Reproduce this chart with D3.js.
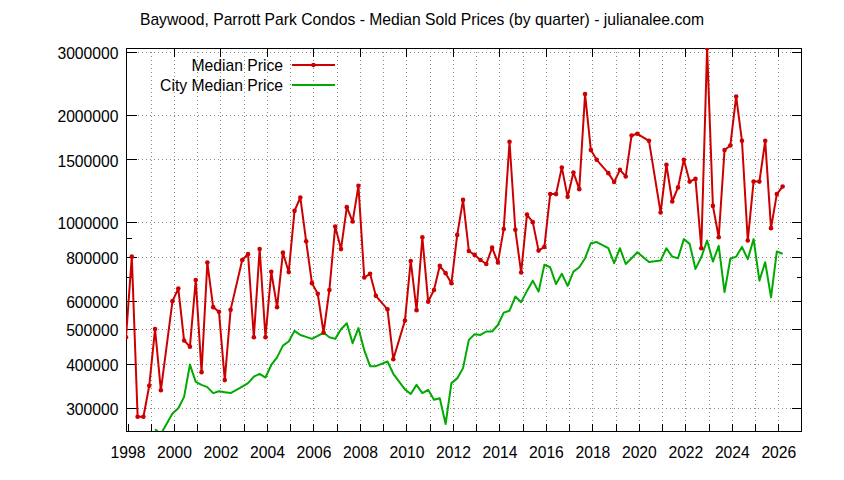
<!DOCTYPE html>
<html>
<head>
<meta charset="utf-8">
<script src="https://cdn.jsdelivr.net/npm/d3@7/dist/d3.min.js"></script>
<style>
  body { margin: 0; background: #fff; }
  text { font-family: "Liberation Sans", Arial, sans-serif; }
</style>
</head>
<body>
<svg id="chart" width="844" height="480"></svg>
<script>
// ---------- data ----------
const chartTitle = "Baywood, Parrott Park Condos - Median Sold Prices (by quarter) - julianalee.com";
const seriesNames = ["Median Price", "City Median Price"];
const firstYear = 1998;          // first quarter of the series: 1998 Q1
const xDomain = [1997.935, 2026.975];
const yDomain = [259000, 3085000];
const yTickValues = [300000, 400000, 500000, 600000, 800000, 1000000, 1500000, 2000000, 3000000];
const yMinorTicks = [700000, 900000];
const xYears = d3.range(1998, 2027);

// quarterly values, null = quarter with no sales
const medianPrice = [
  475000, 800000, 284000, 284000, 347000, 501000, 337000, null,
  600000, 651000, 465000, 447000, 688000, 379000, 770000, 577000,
  560000, 360000, 567000, null, 783000, 814000, 475000, 841000,
  475000, 725000, 577000, 821000, 724000, 1076000, 1173000, 884000,
  674000, 629000, 489000, 645000, 972000, 840000, 1102000, 1004000,
  1265000, 699000, 716000, 621000, null, 569000, 412000, null,
  529000, 778000, 566000, 907000, 598000, 645000, 754000, 719000,
  674000, 921000, 1155000, 830000, 809000, 783000, 763000, 848000,
  770000, 956000, 1682000, 952000, 722000, 1050000, 1000000, 832000,
  852000, 1199000, 1199000, 1424000, 1178000, 1379000, 1238000, 2290000,
  1594000, 1497000, null, 1373000, 1296000, 1403000, 1344000, 1752000,
  1771000, null, 1692000, null, 1064000, 1449000, 1143000, 1252000,
  1497000, 1300000, 1323000, 845000, 3080000, 1111000, 907000, 1594000,
  1642000, 2255000, 1692000, 888000, 1300000, 1300000, 1692000, 962000,
  1199000, 1259000
];
const cityMedianPrice = [
  null, null, null, null, null, 262000, 254000, null,
  290000, 300000, 323000, 398000, 356000, 349000, 344000, 331000,
  335000, 333000, 331000, null, 345000, 353000, 368000, 375000,
  366000, 397000, 417000, 450000, 462000, 495000, 482000, 476000,
  470000, 479000, 489000, 475000, 470000, 500000, 520000, 457000,
  504000, 437000, 394000, 394000, null, 406000, 375000, null,
  339000, 329000, 349000, 331000, 338000, 317000, 320000, 271000,
  353000, 364000, 389000, 467000, 484000, 482000, 493000, 493000,
  514000, 557000, 564000, 618000, 596000, 641000, 685000, 638000,
  759000, 747000, 670000, 716000, 662000, 726000, 747000, 792000,
  873000, 879000, null, 845000, 767000, 845000, 763000, 792000,
  823000, null, 773000, null, 780000, 845000, 800000, 792000,
  896000, 869000, 739000, 797000, 888000, 775000, 858000, 636000,
  789000, 800000, 852000, 787000, 896000, 685000, 772000, 615000,
  827000, 815000
];

// ---------- layout ----------
const W = 844, H = 480;
const plot = { left: 126, right: 801, top: 48, bottom: 431 };
const fontSize = 15.7;
const redColor = "#cc0000", greenColor = "#00aa00";

const svg = d3.select("#chart");
const x = d3.scaleLinear().domain(xDomain).range([plot.left, plot.right]);
const y = d3.scaleLog().domain(yDomain).range([plot.bottom, plot.top]);
const pw = plot.right - plot.left, ph = plot.bottom - plot.top;

function toPoints(values) {
  return values.map((v, i) => ({ t: firstYear + i / 4 + (xDomain[0] - firstYear), v }))
               .filter(d => d.v != null);
}
const redPts = toPoints(medianPrice);
const greenPts = toPoints(cityMedianPrice);

// grid
const grid = svg.append("g").attr("stroke", "#8c8c8c").attr("stroke-width", 1)
  .attr("stroke-dasharray", "1,3");
grid.selectAll("line.gx").data(xYears.filter(yr => x(yr) > plot.left + 2)).join("line")
  .attr("x1", d => Math.round(x(d)) + 0.5).attr("x2", d => Math.round(x(d)) + 0.5)
  .attr("y1", plot.top).attr("y2", plot.bottom);
grid.selectAll("line.gy").data(yTickValues).join("line")
  .attr("y1", d => Math.round(y(d)) + 0.5).attr("y2", d => Math.round(y(d)) + 0.5)
  .attr("x1", plot.left).attr("x2", plot.right);

// axes (ticks inward, mirrored)
const fmt = d3.format("d");
const leftAxis = svg.append("g").attr("transform", `translate(${plot.left + 0.5},0)`)
  .call(d3.axisLeft(y).tickValues(yTickValues).tickFormat(fmt).tickSizeInner(-10).tickSizeOuter(0).tickPadding(8));
const leftMinor = svg.append("g").attr("transform", `translate(${plot.left + 0.5},0)`)
  .call(d3.axisLeft(y).tickValues(yMinorTicks).tickFormat("").tickSizeInner(-5).tickSizeOuter(0));
const rightAxis = svg.append("g").attr("transform", `translate(${plot.right + 0.5},0)`)
  .call(d3.axisRight(y).tickValues(yTickValues).tickFormat("").tickSizeInner(-10).tickSizeOuter(0));
const rightMinor = svg.append("g").attr("transform", `translate(${plot.right + 0.5},0)`)
  .call(d3.axisRight(y).tickValues(yMinorTicks).tickFormat("").tickSizeInner(-5).tickSizeOuter(0));
const bottomAxis = svg.append("g").attr("transform", `translate(0,${plot.bottom + 0.5})`)
  .call(d3.axisBottom(x).tickValues(xYears).tickFormat(d => d % 2 === 0 ? fmt(d) : "")
        .tickSizeInner(-8).tickSizeOuter(0).tickPadding(15));
const topAxis = svg.append("g").attr("transform", `translate(0,${plot.top + 0.5})`)
  .call(d3.axisTop(x).tickValues(xYears.filter(d => d % 2 === 0 && x(d) > plot.left + 2)).tickFormat("")
        .tickSizeInner(-8).tickSizeOuter(0));

[leftAxis, leftMinor, rightAxis, rightMinor, bottomAxis, topAxis].forEach(g => {
  g.select(".domain").remove();
  g.selectAll(".tick line").attr("stroke", "#000").attr("shape-rendering", "crispEdges");
  g.selectAll("text").attr("font-size", fontSize).attr("fill", "#000")
    .attr("font-family", '"Liberation Sans", Arial, sans-serif');
});
leftAxis.selectAll("text").attr("dy", "0.42em");

// border
svg.append("rect").attr("x", plot.left + 0.5).attr("y", plot.top + 0.5)
  .attr("width", pw).attr("height", ph).attr("fill", "none").attr("stroke", "#000")
  .attr("stroke-width", 1).attr("shape-rendering", "crispEdges");

// clip
svg.append("clipPath").attr("id", "clip").append("rect")
  .attr("x", plot.left).attr("y", plot.top).attr("width", pw).attr("height", ph);

const line = d3.line().x(d => x(d.t)).y(d => y(d.v));
const marks = svg.append("g").attr("clip-path", "url(#clip)");
marks.append("path").datum(greenPts).attr("d", line).attr("fill", "none")
  .attr("stroke", greenColor).attr("stroke-width", 2).attr("stroke-linejoin", "round");
marks.append("path").datum(redPts).attr("d", line).attr("fill", "none")
  .attr("stroke", redColor).attr("stroke-width", 2).attr("stroke-linejoin", "round");
marks.selectAll("circle.pt").data(redPts).join("circle")
  .attr("cx", d => x(d.t)).attr("cy", d => y(d.v)).attr("r", 2.3).attr("fill", redColor);

// title
svg.append("text").attr("x", W / 2).attr("y", 25).attr("text-anchor", "middle")
  .attr("font-size", fontSize).attr("fill", "#000").text(chartTitle);

// legend
const legend = svg.append("g");
const legendRows = [
  { name: seriesNames[0], color: redColor, marker: true, y: 65 },
  { name: seriesNames[1], color: greenColor, marker: false, y: 85 }
];
legendRows.forEach(r => {
  legend.append("text").attr("x", 283).attr("y", r.y + 6).attr("text-anchor", "end")
    .attr("font-size", fontSize).attr("fill", "#000").text(r.name);
  legend.append("line").attr("x1", 292).attr("x2", 335).attr("y1", r.y).attr("y2", r.y)
    .attr("stroke", r.color).attr("stroke-width", 2);
  if (r.marker) legend.append("circle").attr("cx", 313.5).attr("cy", r.y).attr("r", 2.3).attr("fill", r.color);
});
</script>
</body>
</html>
